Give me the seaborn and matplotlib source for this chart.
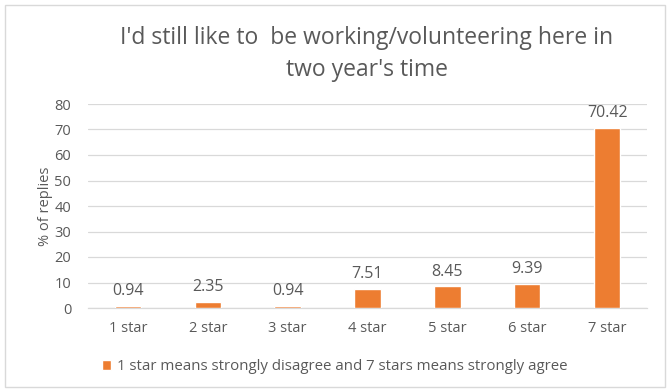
import matplotlib
matplotlib.use("Agg")
import matplotlib.pyplot as plt
import seaborn as sns
import pandas as pd
from matplotlib.patches import Rectangle

categories = ["1 star", "2 star", "3 star", "4 star", "5 star", "6 star", "7 star"]
values = [0.94, 2.35, 0.94, 7.51, 8.45, 9.39, 70.42]
yticks = [0, 10, 20, 30, 40, 50, 60, 70, 80]
series_name = "1 star means strongly disagree and 7 stars means strongly agree"
title = "I'd still like to  be working/volunteering here in\ntwo year's time"

sns.set_theme(style="white")
plt.rcParams["font.family"] = ["Open Sans", "DejaVu Sans"]

orange = "#ED7D31"
text_gray = "#595959"
grid_gray = "#D9D9D9"

df = pd.DataFrame({"rating": categories, "pct": values, "series": series_name})

fig = plt.figure(figsize=(6.72, 3.91), dpi=100)
ax = fig.add_axes([88 / 672, 1 - 308 / 391, (647 - 88) / 672, (308 - 104) / 391])

sns.barplot(data=df, x="rating", y="pct", hue="series", palette=[orange],
            saturation=1, width=0.33, ax=ax, legend=True, zorder=3)

ax.set_ylim(0, 80)
ax.set_yticks(yticks)
ax.set_xlim(-0.5, len(categories) - 0.5)
ax.yaxis.grid(True, color=grid_gray, linewidth=0.9, zorder=0)
ax.set_axisbelow(True)
for s in ["top", "right", "left"]:
    ax.spines[s].set_visible(False)
ax.spines["bottom"].set_color(grid_gray)
ax.spines["bottom"].set_linewidth(0.9)
ax.tick_params(axis="both", length=0, colors=text_gray, labelsize=10.5)
ax.tick_params(axis="x", pad=9)
ax.tick_params(axis="y", pad=12)
ax.set_xlabel("")
ax.set_ylabel("% of replies", color=text_gray, fontsize=10.5, labelpad=1)

for cont in ax.containers:
    ax.bar_label(cont, labels=[f"{v:.2f}" for v in values], padding=5,
                 color=text_gray, fontsize=11.5)

leg = ax.legend(loc="center left", bbox_to_anchor=(96 / 672, 1 - 367 / 391),
                bbox_transform=fig.transFigure, frameon=False, fontsize=10.8,
                handlelength=0.6, handleheight=0.6, handletextpad=0.4,
                borderaxespad=0)
for t in leg.get_texts():
    t.set_color(text_gray)

fig.text(367 / 672, 1 - 54 / 391, title, ha="center", va="center",
         fontsize=16.5, color=text_gray, linespacing=1.4)

fig.patches.append(Rectangle((5 / 672, 4 / 391), 660 / 672, 382 / 391,
                             transform=fig.transFigure, fill=False,
                             edgecolor="#D9D9D9", linewidth=1.0))

fig.savefig("out.png", dpi=100)
